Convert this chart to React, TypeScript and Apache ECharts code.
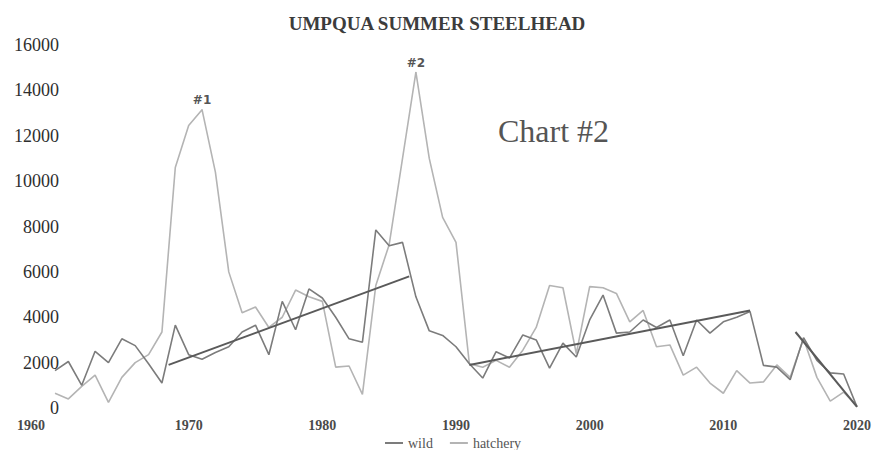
import React, { useEffect, useRef } from "react";
import * as echarts from "echarts";

const years = [
  1960, 1961, 1962, 1963, 1964, 1965, 1966, 1967, 1968, 1969,
  1970, 1971, 1972, 1973, 1974, 1975, 1976, 1977, 1978, 1979,
  1980, 1981, 1982, 1983, 1984, 1985, 1986, 1987, 1988, 1989,
  1990, 1991, 1992, 1993, 1994, 1995, 1996, 1997, 1998, 1999,
  2000, 2001, 2002, 2003, 2004, 2005, 2006, 2007, 2008, 2009,
  2010, 2011, 2012, 2013, 2014, 2015, 2016, 2017, 2018, 2019,
  2020,
];

const wild = [
  1650, 2050, 1000, 2500, 2000, 3050, 2750, 1950, 1100, 3650,
  2350, 2150, 2450, 2700, 3350, 3650, 2350, 4700, 3450, 5250,
  4850, 4000, 3050, 2900, 7850, 7150, 7300, 4900, 3400, 3200,
  2700, 1950, 1320, 2480, 2200, 3220, 3000, 1760, 2860, 2250,
  3880, 4980, 3300, 3350, 3880, 3550, 3880, 2300, 3880, 3300,
  3800, 4000, 4250, 1880, 1800, 1250, 3100, 2100, 1550, 1500,
  50,
];

const hatchery = [
  650, 400, 950, 1450, 250, 1350, 2000, 2350, 3350, 10600,
  12450, 13150, 10400, 6000, 4200, 4450, 3550, 4000, 5200, 4900,
  4700, 1800, 1850, 600, 5400, 7200, 11000, 14800, 11000, 8400,
  7300, 1950, 1800, 2100, 1800, 2550, 3550, 5400, 5300, 2400,
  5350, 5300, 5050, 3800, 4300, 2700, 2780, 1450, 1800, 1100,
  650, 1650, 1100, 1150, 1900, 1350, 3050, 1350, 300, 700,
  100,
];

// trend segments: [year, value] endpoints
const trend1 = [[1968.5, 1900], [1986.5, 5800]];
const trend2 = [[1991, 1900], [2012, 4300]];
const trend3 = [[2015.4, 3350], [2020, 50]];

// peak annotations on the hatchery series
const peakLabels = [
  { year: 1971, text: "#1" },
  { year: 1987, text: "#2" },
];

const titleText = "UMPQUA SUMMER STEELHEAD";
const noteText = "Chart #2";

const WILD_COLOR = "#7c7c7c";
const HATCH_COLOR = "#b4b4b4";
const TREND_COLOR = "#5a5a5a";

export default function App() {
  const ref = useRef<HTMLDivElement>(null);

  useEffect(() => {
    if (!ref.current) return;
    const chart = echarts.init(ref.current, null, { renderer: "svg" });

    const wildData = years.map((y, i) => [y, wild[i]]);
    const hatchData = years.map((y, i) => {
      const pk = peakLabels.find((p) => p.year === y);
      if (!pk) return [y, hatchery[i]];
      return {
        value: [y, hatchery[i]],
        symbol: "circle",
        symbolSize: 1,
        itemStyle: { color: HATCH_COLOR },
        label: {
          show: true,
          position: "top",
          distance: 3,
          formatter: pk.text,
          fontFamily: "DejaVu Sans",
          fontWeight: "bold",
          fontSize: 12,
          color: "#555",
        },
      };
    });

    const trendSeries = [trend1, trend2, trend3].map((t, k) => ({
      name: "trend" + k,
      type: "line",
      data: t,
      symbol: "none",
      lineStyle: { color: TREND_COLOR, width: 2 },
      z: 5,
      silent: true,
    }));

    chart.setOption({
      animation: false,
      backgroundColor: "#ffffff",
      title: {
        text: titleText,
        left: "center",
        top: 9,
        textStyle: {
          fontFamily: "Liberation Serif",
          fontWeight: "bold",
          fontSize: 19,
          color: "#3c3c3c",
        },
      },
      graphic: [
        {
          type: "text",
          x: 498,
          y: 131,
          style: {
            text: noteText,
            font: '32px "Liberation Serif"',
            fill: "#555555",
            align: "left",
            verticalAlign: "middle",
          },
        },
      ],
      legend: {
        data: ["wild", "hatchery"],
        left: 380,
        top: 431,
        icon: "rect",
        itemWidth: 18,
        itemHeight: 2,
        itemGap: 17,
        textStyle: {
          fontFamily: "Liberation Serif",
          fontSize: 14,
          color: "#555",
        },
      },
      grid: { left: 55, right: 3, top: 45, bottom: 42 },
      xAxis: {
        type: "value",
        min: 1960,
        max: 2020,
        interval: 10,
        axisLine: { show: false },
        axisTick: { show: false },
        splitLine: { show: false },
        axisLabel: {
          margin: 10,
          fontFamily: "Liberation Serif",
          fontSize: 14,
          fontWeight: "bold",
          color: "#4a4a4a",
          formatter: (v: number) => (v === 1960 ? "{a|" + v + "}" : String(v)),
          rich: {
            a: {
              fontFamily: "Liberation Serif",
              fontSize: 14,
              fontWeight: "bold",
              color: "#4a4a4a",
              padding: [0, 48, 0, 0],
            },
          },
        },
      },
      yAxis: {
        type: "value",
        min: 0,
        max: 16000,
        interval: 2000,
        axisLine: { show: false },
        axisTick: { show: false },
        splitLine: { show: false },
        axisLabel: {
          margin: -4,
          showMinLabel: true,
          showMaxLabel: true,
          fontFamily: "Liberation Serif",
          fontSize: 18,
          color: "#2e2e2e",
          formatter: (v: number) => String(v),
        },
      },
      series: [
        {
          name: "wild",
          type: "line",
          data: wildData,
          symbol: "none",
          showSymbol: true,
          lineStyle: { color: WILD_COLOR, width: 1.6 },
          itemStyle: { color: WILD_COLOR },
          z: 4,
        },
        {
          name: "hatchery",
          type: "line",
          data: hatchData,
          symbol: "none",
          showSymbol: true,
          lineStyle: { color: HATCH_COLOR, width: 1.6 },
          itemStyle: { color: HATCH_COLOR },
          z: 3,
        },
        ...trendSeries,
      ],
    });

    return () => chart.dispose();
  }, []);

  return (
    <div
      ref={ref}
      style={{ position: "absolute", left: 0, top: 0, width: 874, height: 450 }}
    />
  );
}
